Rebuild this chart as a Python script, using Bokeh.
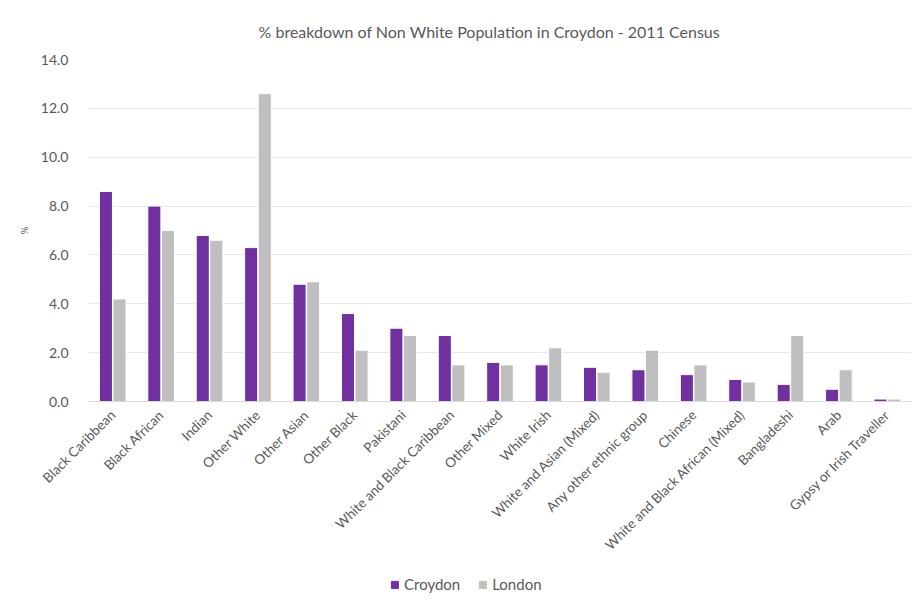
from bokeh.plotting import figure
from bokeh.layouts import column
from bokeh.models import FactorRange, ColumnDataSource, Legend, LegendItem, NumeralTickFormatter
from bokeh.transform import dodge
from bokeh.embed import file_html
from bokeh.resources import INLINE
import math

categories = ["Black Caribbean", "Black African", "Indian", "Other White", "Other Asian",
              "Other Black", "Pakistani", "White and Black Caribbean", "Other Mixed",
              "White Irish", "White and Asian (Mixed)", "Any other ethnic group", "Chinese",
              "White and Black African (Mixed)", "Bangladeshi", "Arab", "Gypsy or Irish Traveller"]
croydon = [8.6, 8.0, 6.8, 6.3, 4.8, 3.6, 3.0, 2.7, 1.6, 1.5, 1.4, 1.3, 1.1, 0.9, 0.7, 0.5, 0.1]
london = [4.2, 7.0, 6.6, 12.6, 4.9, 2.1, 2.7, 1.5, 1.5, 2.2, 1.2, 2.1, 1.5, 0.8, 2.7, 1.3, 0.1]
series_names = ["Croydon", "London"]
series_colors = ["#7030A0", "#BFBFBF"]
y_ticks = [0, 2, 4, 6, 8, 10, 12, 14]

FONT = "Lato"
TXT = "#595959"

src = ColumnDataSource(dict(cat=categories, croydon=croydon, london=london))

p = figure(x_range=FactorRange(*categories), y_range=(0, 14), width=912, height=566,
           output_backend="svg", toolbar_location=None,
           title="% breakdown of Non White Population in Croydon - 2011 Census",
           min_border_left=88, min_border_right=1, min_border_top=58, min_border_bottom=165)

p.title.align = "left"
p.title.offset = 170
p.title.standoff = 38
p.title.text_font = FONT
p.title.text_font_size = "16px"
p.title.text_font_style = "normal"
p.title.text_color = TXT

p.vbar(x=dodge("cat", -0.14, range=p.x_range), top="croydon", width=0.27, source=src,
       fill_color=series_colors[0], line_color="white", line_width=1)
p.vbar(x=dodge("cat", 0.14, range=p.x_range), top="london", width=0.27, source=src,
       fill_color=series_colors[1], line_color="white", line_width=1)

p.outline_line_color = None
p.xgrid.grid_line_color = None
p.ygrid.grid_line_color = "#E8E8E8"
p.ygrid.ticker = y_ticks

p.yaxis.ticker = y_ticks
p.yaxis.formatter = NumeralTickFormatter(format="0.0")
p.yaxis.axis_line_color = None
p.yaxis.major_tick_line_color = None
p.yaxis.minor_tick_line_color = None
p.yaxis.major_label_standoff = 14
p.yaxis.major_label_text_font = FONT
p.yaxis.major_label_text_font_size = "14px"
p.yaxis.major_label_text_color = TXT
p.yaxis.axis_label = "%"
p.yaxis.axis_label_text_font = FONT
p.yaxis.axis_label_text_font_size = "10px"
p.yaxis.axis_label_text_font_style = "normal"
p.yaxis.axis_label_text_color = TXT
p.yaxis.axis_label_standoff = 8

p.xaxis.axis_line_color = "#D9D9D9"
p.xaxis.major_tick_line_color = None
p.xaxis.minor_tick_line_color = None
p.xaxis.major_label_orientation = math.pi / 4
p.xaxis.major_label_text_font = FONT
p.xaxis.major_label_text_font_size = "13.5px"
p.xaxis.major_label_text_color = TXT

# legend strip (its marks sit outside the visible range; only the legend swatches show)
lg = figure(width=912, height=34, output_backend="svg", toolbar_location=None,
            x_range=(0, 1), y_range=(0, 1), x_axis_location=None, y_axis_location=None,
            min_border=0)
lg.outline_line_color = None
lg.grid.grid_line_color = None
items = []
for name, col in zip(series_names, series_colors):
    r = lg.vbar(x=[-10], top=[-10], width=0.1, fill_color=col, line_color=col)
    items.append(LegendItem(label=name, renderers=[r]))
legend = Legend(items=items, orientation="horizontal", location=(302, 7),
                label_text_font=FONT, label_text_font_size="15px", label_text_color=TXT,
                glyph_width=9, glyph_height=9, spacing=18, label_standoff=5,
                border_line_color=None, background_fill_alpha=0, margin=0, padding=4)
lg.add_layout(legend, "center")

layout = column(p, lg, spacing=0)
open("out.html", "w").write(file_html(layout, INLINE))
